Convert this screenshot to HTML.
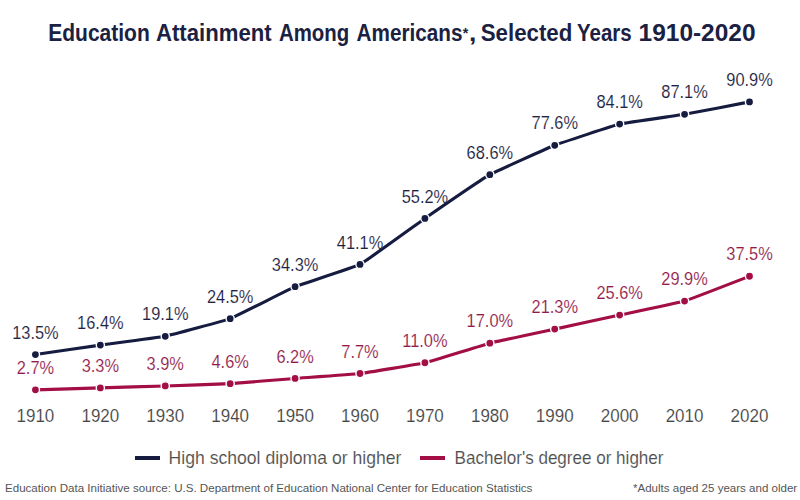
<!DOCTYPE html>
<html><head><meta charset="utf-8"><style>
html,body{margin:0;padding:0;background:#fff;width:800px;height:500px;overflow:hidden}
svg{display:block}
text{font-family:"Liberation Sans",sans-serif}
.lh{font-size:16.4px;fill:#1b2140;stroke:#fff;stroke-width:0.12px;text-anchor:middle}
.lb{font-size:16.4px;fill:#921a4a;stroke:#fff;stroke-width:0.12px;text-anchor:middle}
.yr{font-size:17px;fill:#454545;stroke:#fff;stroke-width:0.12px;text-anchor:middle}
.ttl{font-size:24px;font-weight:bold;fill:#1a2142}
.leg{font-size:18.2px;fill:#4e4e4e;stroke:#fff;stroke-width:0.12px}
.ft{font-size:11.6px;fill:#555}
</style></head><body>
<svg width="800" height="500" viewBox="0 0 800 500">
<text transform="translate(48.22 40.90) scale(0.8754 1.0000)" class="ttl" >Education</text>
<text transform="translate(156.00 40.90) scale(0.9232 1.0000)" class="ttl" >Attainment</text>
<text transform="translate(278.90 40.90) scale(0.8506 1.0000)" class="ttl" >Among</text>
<text transform="translate(356.60 40.90) scale(0.8631 1.0000)" class="ttl" >Americans</text>
<text transform="translate(462.80 38.00) scale(1.0167 1.0000)" class="ttl" style="font-size:14px">*</text>
<text transform="translate(468.90 40.90) scale(1.1000 1.0000)" class="ttl" >,</text>
<text transform="translate(480.77 40.90) scale(0.9281 1.0000)" class="ttl" >Selected</text>
<text transform="translate(577.00 40.90) scale(0.8540 1.0000)" class="ttl" >Years</text>
<text transform="translate(638.58 40.90) scale(1.0195 1.0000)" class="ttl" >1910-2020</text>
<path d="M35.42 354.58 C38.02 354.21 95.14 345.85 100.34 345.12 C105.53 344.38 160.06 337.36 165.25 336.30 C170.44 335.24 224.97 320.66 230.17 318.67 C235.36 316.68 289.89 288.84 295.08 286.67 C300.27 284.51 354.80 267.20 360.00 264.47 C365.19 261.74 419.72 222.03 424.91 218.44 C430.10 214.85 484.63 177.61 489.83 174.69 C495.02 171.76 549.55 147.33 554.74 145.30 C559.93 143.28 614.46 125.32 619.65 124.08 C624.85 122.84 679.38 115.18 684.57 114.29 C689.76 113.40 746.89 102.38 749.49 101.88" fill="none" stroke="#161c3f" stroke-width="3.1" stroke-linejoin="round"/>
<path d="M35.42 389.84 C38.02 389.77 95.14 388.04 100.34 387.89 C105.53 387.73 160.06 386.10 165.25 385.93 C170.44 385.76 224.97 383.94 230.17 383.64 C235.36 383.34 289.89 378.82 295.08 378.42 C300.27 378.01 354.80 374.15 360.00 373.52 C365.19 372.89 419.72 363.96 424.91 362.75 C430.10 361.53 484.63 344.50 489.83 343.16 C495.02 341.81 549.55 330.24 554.74 329.12 C559.93 327.99 614.46 316.20 619.65 315.08 C624.85 313.96 679.38 302.59 684.57 301.04 C689.76 299.49 746.89 277.22 749.49 276.23" fill="none" stroke="#a30e45" stroke-width="3.1" stroke-linejoin="round"/>
<circle cx="35.42" cy="354.58" r="4.1" fill="#161c3f" stroke="#fff" stroke-width="1.4"/>
<circle cx="100.34" cy="345.12" r="4.1" fill="#161c3f" stroke="#fff" stroke-width="1.4"/>
<circle cx="165.25" cy="336.30" r="4.1" fill="#161c3f" stroke="#fff" stroke-width="1.4"/>
<circle cx="230.17" cy="318.67" r="4.1" fill="#161c3f" stroke="#fff" stroke-width="1.4"/>
<circle cx="295.08" cy="286.67" r="4.1" fill="#161c3f" stroke="#fff" stroke-width="1.4"/>
<circle cx="360.00" cy="264.47" r="4.1" fill="#161c3f" stroke="#fff" stroke-width="1.4"/>
<circle cx="424.91" cy="218.44" r="4.1" fill="#161c3f" stroke="#fff" stroke-width="1.4"/>
<circle cx="489.83" cy="174.69" r="4.1" fill="#161c3f" stroke="#fff" stroke-width="1.4"/>
<circle cx="554.74" cy="145.30" r="4.1" fill="#161c3f" stroke="#fff" stroke-width="1.4"/>
<circle cx="619.65" cy="124.08" r="4.1" fill="#161c3f" stroke="#fff" stroke-width="1.4"/>
<circle cx="684.57" cy="114.29" r="4.1" fill="#161c3f" stroke="#fff" stroke-width="1.4"/>
<circle cx="749.49" cy="101.88" r="4.1" fill="#161c3f" stroke="#fff" stroke-width="1.4"/>
<circle cx="35.42" cy="389.84" r="4.1" fill="#a30e45" stroke="#fff" stroke-width="1.4"/>
<circle cx="100.34" cy="387.89" r="4.1" fill="#a30e45" stroke="#fff" stroke-width="1.4"/>
<circle cx="165.25" cy="385.93" r="4.1" fill="#a30e45" stroke="#fff" stroke-width="1.4"/>
<circle cx="230.17" cy="383.64" r="4.1" fill="#a30e45" stroke="#fff" stroke-width="1.4"/>
<circle cx="295.08" cy="378.42" r="4.1" fill="#a30e45" stroke="#fff" stroke-width="1.4"/>
<circle cx="360.00" cy="373.52" r="4.1" fill="#a30e45" stroke="#fff" stroke-width="1.4"/>
<circle cx="424.91" cy="362.75" r="4.1" fill="#a30e45" stroke="#fff" stroke-width="1.4"/>
<circle cx="489.83" cy="343.16" r="4.1" fill="#a30e45" stroke="#fff" stroke-width="1.4"/>
<circle cx="554.74" cy="329.12" r="4.1" fill="#a30e45" stroke="#fff" stroke-width="1.4"/>
<circle cx="619.65" cy="315.08" r="4.1" fill="#a30e45" stroke="#fff" stroke-width="1.4"/>
<circle cx="684.57" cy="301.04" r="4.1" fill="#a30e45" stroke="#fff" stroke-width="1.4"/>
<circle cx="749.49" cy="276.23" r="4.1" fill="#a30e45" stroke="#fff" stroke-width="1.4"/>
<text transform="translate(35.42 338.68) scale(1.0000 1.1000)" class="lh" >13.5%</text>
<text transform="translate(100.34 329.22) scale(1.0000 1.1000)" class="lh" >16.4%</text>
<text transform="translate(165.25 320.40) scale(1.0000 1.1000)" class="lh" >19.1%</text>
<text transform="translate(230.17 302.77) scale(1.0000 1.1000)" class="lh" >24.5%</text>
<text transform="translate(295.08 270.77) scale(1.0000 1.1000)" class="lh" >34.3%</text>
<text transform="translate(360.00 248.57) scale(1.0000 1.1000)" class="lh" >41.1%</text>
<text transform="translate(424.91 202.54) scale(1.0000 1.1000)" class="lh" >55.2%</text>
<text transform="translate(489.83 158.79) scale(1.0000 1.1000)" class="lh" >68.6%</text>
<text transform="translate(554.74 129.40) scale(1.0000 1.1000)" class="lh" >77.6%</text>
<text transform="translate(619.65 108.18) scale(1.0000 1.1000)" class="lh" >84.1%</text>
<text transform="translate(684.57 98.39) scale(1.0000 1.1000)" class="lh" >87.1%</text>
<text transform="translate(749.49 85.98) scale(1.0000 1.1000)" class="lh" >90.9%</text>
<text transform="translate(35.42 373.94) scale(1.0000 1.1000)" class="lb" >2.7%</text>
<text transform="translate(100.34 371.99) scale(1.0000 1.1000)" class="lb" >3.3%</text>
<text transform="translate(165.25 370.03) scale(1.0000 1.1000)" class="lb" >3.9%</text>
<text transform="translate(230.17 367.74) scale(1.0000 1.1000)" class="lb" >4.6%</text>
<text transform="translate(295.08 362.52) scale(1.0000 1.1000)" class="lb" >6.2%</text>
<text transform="translate(360.00 357.62) scale(1.0000 1.1000)" class="lb" >7.7%</text>
<text transform="translate(424.91 346.85) scale(1.0000 1.1000)" class="lb" >11.0%</text>
<text transform="translate(489.83 327.26) scale(1.0000 1.1000)" class="lb" >17.0%</text>
<text transform="translate(554.74 313.22) scale(1.0000 1.1000)" class="lb" >21.3%</text>
<text transform="translate(619.65 299.18) scale(1.0000 1.1000)" class="lb" >25.6%</text>
<text transform="translate(684.57 285.14) scale(1.0000 1.1000)" class="lb" >29.9%</text>
<text transform="translate(749.49 260.33) scale(1.0000 1.1000)" class="lb" >37.5%</text>
<text transform="translate(35.42 421.80) scale(1.0000 1.1200)" class="yr" >1910</text>
<text transform="translate(100.34 421.80) scale(1.0000 1.1200)" class="yr" >1920</text>
<text transform="translate(165.25 421.80) scale(1.0000 1.1200)" class="yr" >1930</text>
<text transform="translate(230.17 421.80) scale(1.0000 1.1200)" class="yr" >1940</text>
<text transform="translate(295.08 421.80) scale(1.0000 1.1200)" class="yr" >1950</text>
<text transform="translate(360.00 421.80) scale(1.0000 1.1200)" class="yr" >1960</text>
<text transform="translate(424.91 421.80) scale(1.0000 1.1200)" class="yr" >1970</text>
<text transform="translate(489.83 421.80) scale(1.0000 1.1200)" class="yr" >1980</text>
<text transform="translate(554.74 421.80) scale(1.0000 1.1200)" class="yr" >1990</text>
<text transform="translate(619.65 421.80) scale(1.0000 1.1200)" class="yr" >2000</text>
<text transform="translate(684.57 421.80) scale(1.0000 1.1200)" class="yr" >2010</text>
<text transform="translate(749.49 421.80) scale(1.0000 1.1200)" class="yr" >2020</text>
<rect x="135" y="456" width="25" height="4" fill="#161c3f"/>
<text transform="translate(168.60 464.20) scale(0.9676 1.0000)" class="leg" >High school diploma or higher</text>
<rect x="420" y="456" width="25" height="4" fill="#a30e45"/>
<text transform="translate(454.60 464.20) scale(0.9376 1.0000)" class="leg" >Bachelor&#39;s degree or higher</text>
<text transform="translate(5.00 491.80) scale(0.9984 1.0000)" class="ft" >Education Data Initiative source: U.S. Department of Education National Center for Education Statistics</text>
<text transform="translate(797.20 491.80) scale(0.9960 1.0000)" class="ft" text-anchor="end">*Adults aged 25 years and older</text>
</svg>
</body></html>
